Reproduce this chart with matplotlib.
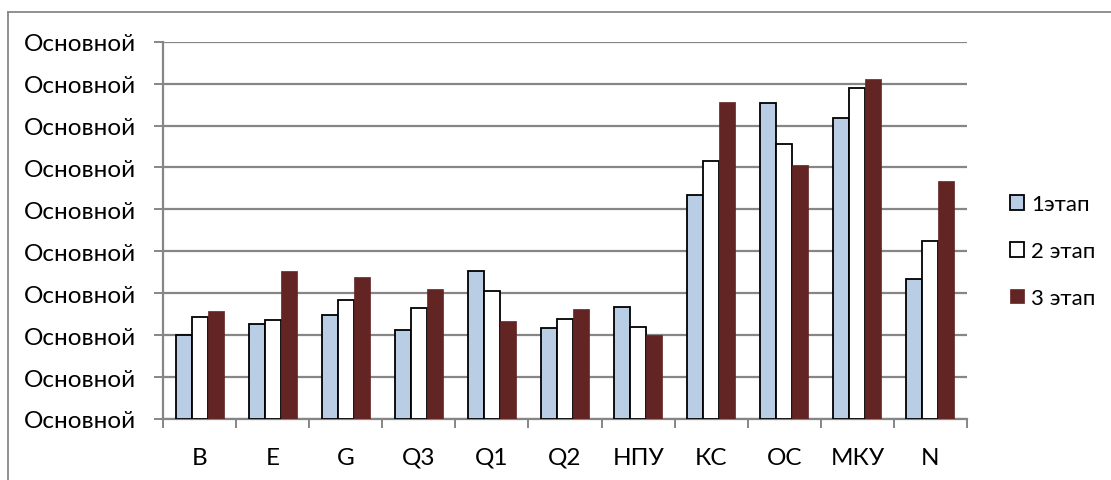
import matplotlib
matplotlib.use("Agg")
import matplotlib.pyplot as plt
from matplotlib.lines import Line2D
import numpy as np

plt.rcParams['font.family'] = ['Lato', 'DejaVu Sans']

categories = ['B', 'E', 'G', 'Q3', 'Q1', 'Q2', 'НПУ', 'КС', 'ОС', 'МКУ', 'N']
stage1 = [2.00, 2.26, 2.47, 2.12, 3.52, 2.16, 2.66, 5.35, 7.53, 7.18, 3.33]
stage2 = [2.43, 2.36, 2.85, 2.64, 3.05, 2.39, 2.19, 6.16, 6.56, 7.89, 4.24]
stage3 = [2.58, 3.54, 3.39, 3.10, 2.33, 2.63, 2.00, 7.56, 6.06, 8.12, 5.68]
series_labels = ['1этап', '2 этап', '3 этап']
ytick_values = list(range(10))
ytick_labels = ['Основной'] * 10

W, H = 1111, 481
fig = plt.figure(figsize=(W / 100, H / 100), dpi=100)
ax = fig.add_axes([163 / W, 1 - 420 / H, (967 - 163) / W, (420 - 42.7) / H])

grid_c = '#868686'
fs = 17.5
x = np.arange(len(categories))
bw = 0.219
ax.bar(x - bw, stage1, bw, color='#B9CDE5', edgecolor='black', linewidth=1.3,
       label=series_labels[0], zorder=3)
ax.bar(x, stage2, bw, color='white', edgecolor='black', linewidth=1.3,
       label=series_labels[1], zorder=3)
ax.bar(x + bw, stage3, bw, color='#632523', edgecolor='#632523', linewidth=0.5,
       label=series_labels[2], zorder=3)

ax.set_xlim(-0.5, len(categories) - 0.5)
ax.set_ylim(0, 9)
ax.set_yticks(ytick_values)
ax.set_yticklabels(ytick_labels)
ax.yaxis.grid(True, color=grid_c, linewidth=1.6, zorder=0)
ax.set_axisbelow(True)

ax.set_xticks(x)
ax.set_xticklabels(categories)
ax.set_xticks(np.arange(len(categories) + 1) - 0.5, minor=True)
ax.tick_params(axis='x', which='major', length=0, pad=20, labelsize=fs)
ax.tick_params(axis='x', which='minor', length=6.5, width=1.4, color=grid_c, direction='out')
ax.tick_params(axis='y', length=6.5, width=1.4, color=grid_c, pad=13, labelsize=fs)

for s in ['top', 'right']:
    ax.spines[s].set_visible(False)
for s in ['left', 'bottom']:
    ax.spines[s].set_color(grid_c)
    ax.spines[s].set_linewidth(1.6)

leg = ax.legend(loc='center left', bbox_to_anchor=(1.053, 0.445), frameon=False,
                fontsize=16, handlelength=0.65, handleheight=0.65,
                handletextpad=0.3, labelspacing=1.2, borderpad=0, borderaxespad=0)

# outer chart border
fig.add_artist(Line2D([8 / W, 8 / W], [0, 1 - 13 / H], color='#888888', linewidth=1.3))
fig.add_artist(Line2D([8 / W, 1], [1 - 13 / H, 1 - 13 / H], color='#888888', linewidth=1.3))

fig.savefig('out.png', dpi=100)
